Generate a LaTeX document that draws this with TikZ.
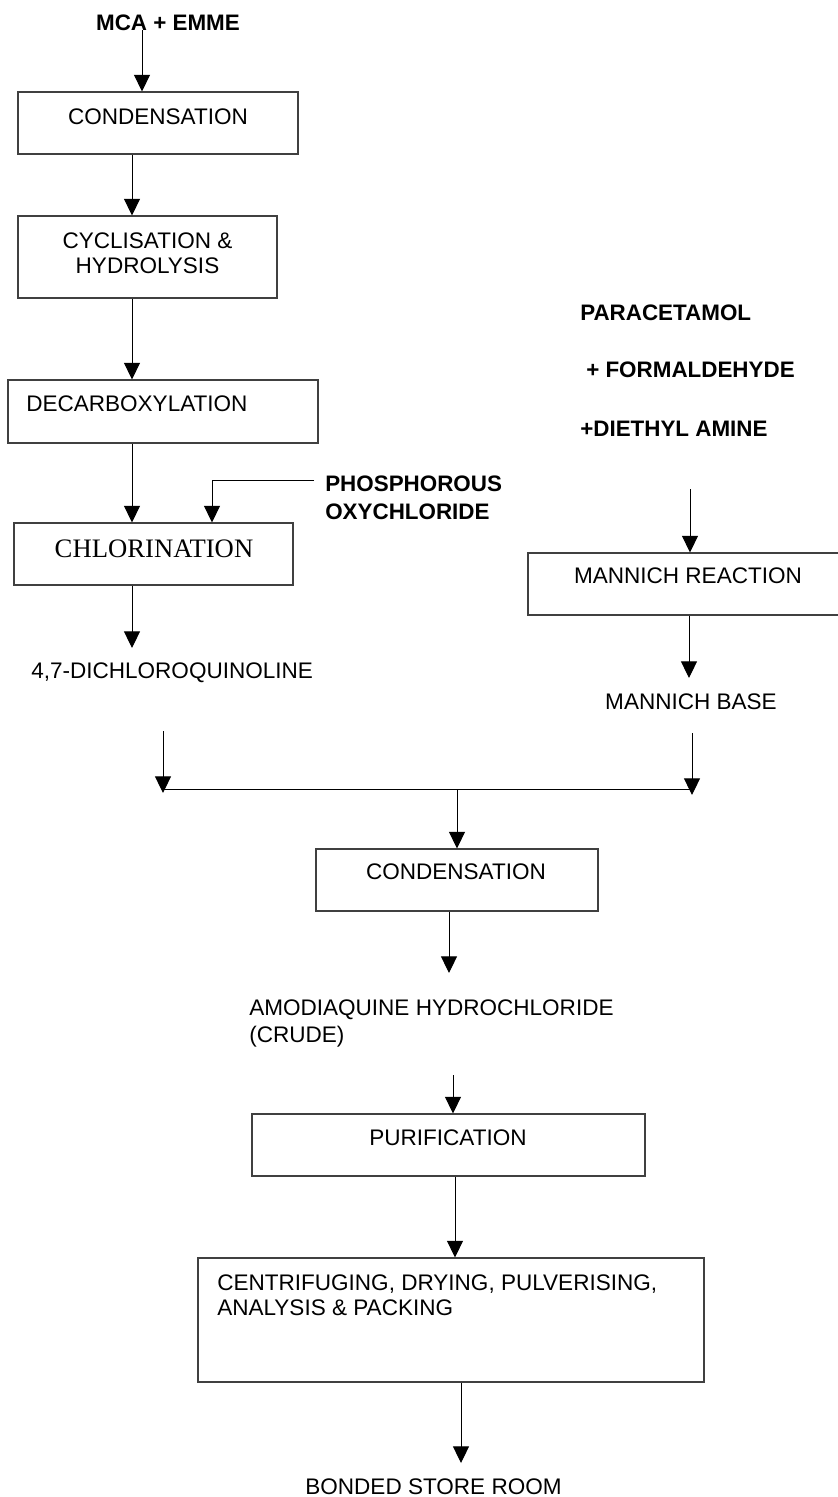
\documentclass[tikz,border=0pt]{standalone}
\usepackage{fontspec}
\setmainfont{Liberation Sans}
\newfontfamily\timesfont{Liberation Serif}
\usetikzlibrary{arrows.meta,fit}
\tikzset{
  box/.style={draw=black!75, line width=0.8pt, rectangle, inner sep=0pt},
  arr/.style={draw=black, line width=0.75pt, -{Triangle[width=12pt,length=12.5pt]}},
  ln/.style={draw=black, line width=0.75pt},
  txt/.style={inner sep=0pt, font=\fontsize{16.9}{18.75}\selectfont},
  btxt/.style={inner sep=0pt, font=\fontsize{16.8}{21}\selectfont\bfseries},
  ttxt/.style={inner sep=0pt, font=\fontsize{20}{24}\selectfont\timesfont},
}
\begin{document}
\begin{tikzpicture}[x=0.75pt,y=-0.75pt]
\useasboundingbox[fill=white] (0,0) rectangle (838,1497);

% boxes
\node[box, fit={(18,92) (298,154)}] (b1) {};
\node[box, fit={(18,216) (277,298)}] (b2) {};
\node[box, fit={(8,380) (318,443)}] (b3) {};
\node[box, fit={(14,523) (293,585)}] (b4) {};
\node[box, fit={(528,553) (842,615)}] (bm) {};
\node[box, fit={(316,849) (598,911)}] (b5) {};
\node[box, fit={(252,1114) (645,1176)}] (b6) {};
\node[box, fit={(198,1258) (704,1382)}] (b7) {};

% texts
\node[btxt, anchor=base] (mca) at (168,30) {MCA + EMME};
\node[txt, anchor=base] (t1) at (158,124) {CONDENSATION};
\node[txt, align=center, anchor=north] (t2) at (147.5,232) {CYCLISATION \&\\HYDROLYSIS};
\node[txt, anchor=base west] (t3) at (26,411) {DECARBOXYLATION};
\node[ttxt, anchor=base] (t4) at (154,557) {CHLORINATION};
\node[btxt, align=left, anchor=north west] (phos) at (325,476) {PHOSPHOROUS\\OXYCHLORIDE};
\node[txt, anchor=base west] (dq) at (31,678) {4,7-DICHLOROQUINOLINE};
\node[btxt, anchor=base west] (para) at (580,320) {PARACETAMOL};
\node[btxt, anchor=base west] (form) at (586,377) {+ FORMALDEHYDE};
\node[btxt, anchor=base west] (diet) at (580,436) {+DIETHYL AMINE};
\node[txt, anchor=base] (mr) at (688,583) {MANNICH REACTION};
\node[txt, anchor=base] (mb) at (691,709) {MANNICH BASE};
\node[txt, anchor=base] (t5) at (456,879) {CONDENSATION};
\node[txt, align=left, anchor=north west] (amo) at (249,999) {AMODIAQUINE HYDROCHLORIDE\\[1.5pt](CRUDE)};
\node[txt, anchor=base] (pur) at (448,1145) {PURIFICATION};
\node[txt, align=left, anchor=north west] (cen) at (217,1274) {CENTRIFUGING, DRYING, PULVERISING,\\ANALYSIS \& PACKING};
\node[txt, anchor=base] (bsr) at (433.5,1494) {BONDED STORE ROOM};

% x positions and free ends
\coordinate (xa) at (142,0);
\coordinate (xb) at (132,0);
\coordinate (xp) at (212,0);
\coordinate (pe) at (314,480);
\coordinate (e6) at (132,648);
\coordinate (s7) at (690,489);
\coordinate (xm) at (689,0);
\coordinate (e8) at (689,678);
\coordinate (sl) at (163,731);
\coordinate (el) at (163,793);
\coordinate (sr) at (692,733);
\coordinate (er) at (692,795);
\coordinate (jl) at (163,789);
\coordinate (jr) at (692,789);
\coordinate (jc) at (457,789);
\coordinate (xc) at (449,0);
\coordinate (e13) at (449,973);
\coordinate (s14) at (453,1075);
\coordinate (xd) at (455,0);
\coordinate (xe) at (461,0);
\coordinate (e16) at (461,1463);

% connectors
\draw[arr] (mca.south -| xa) -- (b1.north -| xa);
\draw[arr] (b1.south -| xb) -- (b2.north -| xb);
\draw[arr] (b2.south -| xb) -- (b3.north -| xb);
\draw[arr] (b3.south -| xb) -- (b4.north -| xb);
\draw[arr] (pe) -| (b4.north -| xp);
\draw[arr] (b4.south -| xb) -- (e6);
\draw[arr] (s7) -- (bm.north -| s7);
\draw[arr] (bm.south -| xm) -- (e8);
\draw[arr] (sl) -- (el);
\draw[arr] (sr) -- (er);
\draw[ln] (jl) -- (jr);
\draw[arr] (jc) -- (b5.north -| jc);
\draw[arr] (b5.south -| xc) -- (e13);
\draw[arr] (s14) -- (b6.north -| s14);
\draw[arr] (b6.south -| xd) -- (b7.north -| xd);
\draw[arr] (b7.south -| xe) -- (e16);
\end{tikzpicture}
\end{document}
